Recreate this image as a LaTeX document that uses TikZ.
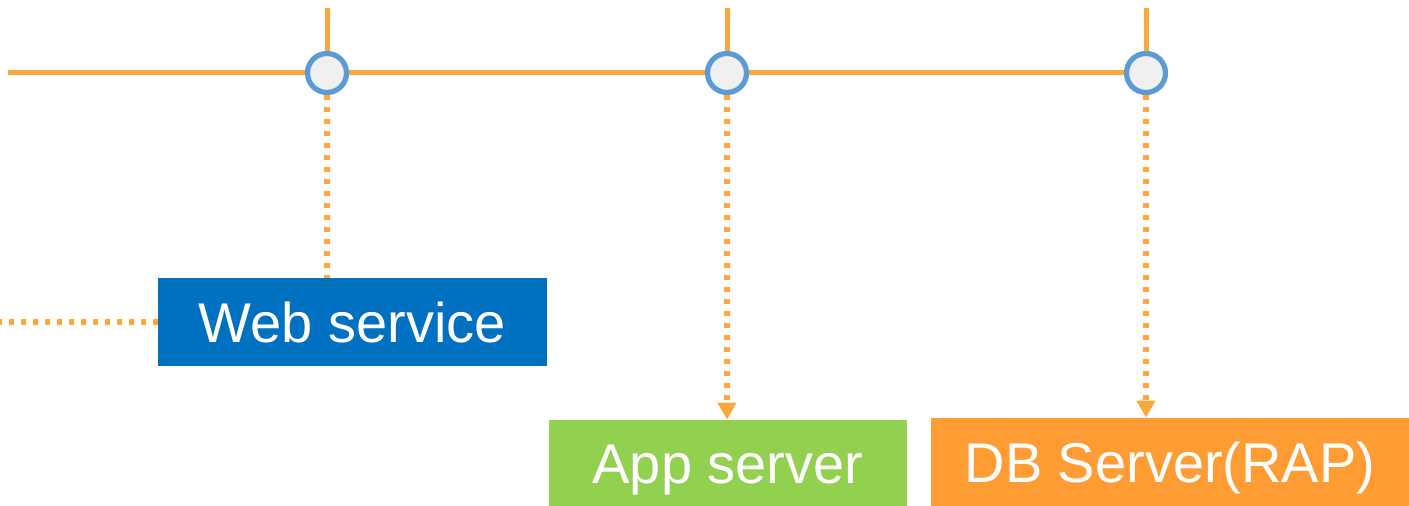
\documentclass[tikz,border=0pt]{standalone}
\usepackage{fontspec}
\setmainfont{Liberation Sans}
\usetikzlibrary{arrows.meta}
\definecolor{wireorange}{HTML}{FBA73C}
\definecolor{hubblue}{HTML}{5B9BD5}
\definecolor{hubfill}{HTML}{F0F0F0}
\definecolor{webblue}{HTML}{0070C0}
\definecolor{appgreen}{HTML}{92D050}
\definecolor{dborange}{HTML}{FF9C34}
\tikzset{
  wire/.style={draw=wireorange, line width=2.5pt},
  dots/.style={draw=wireorange, line width=2.6pt, dash pattern=on 2.5pt off 3.5pt},
  hub/.style={circle, draw=hubblue, fill=hubfill, line width=2.6pt, minimum size=19.5pt, inner sep=0pt},
  box/.style={rectangle, text=white, inner sep=0pt, font=\fontsize{28}{33}\selectfont}
}
\begin{document}
\begin{tikzpicture}[x=0.5pt, y=-0.5pt, >={Triangle[width=9pt,length=8.5pt]}]
\useasboundingbox (0,0) rectangle (1409,506);
% hubs on the bus
\node[hub] (h1) at (327,73) {};
\node[hub] (h2) at (727,73) {};
\node[hub] (h3) at (1146,73) {};
\coordinate (busstart) at (8,73);
\coordinate (t1) at (327,8);
\coordinate (t2) at (727,8);
\coordinate (t3) at (1146,8);
% boxes
\node[box, fill=webblue, minimum width=194.5pt, minimum height=44pt] (web) at (352.5,322) {Web service};
\node[box, fill=appgreen, minimum width=179pt, minimum height=50pt] (app) at (728,470) {App server};
\node[box, fill=dborange, minimum width=239pt, minimum height=50pt] (db) at (1170,468) {DB Server(RAP)};
\coordinate (left) at (0,322);
% bus
\draw[wire] (busstart) -- (h1) -- (h2) -- (h3);
\draw[wire] (t1) -- (h1);
\draw[wire] (t2) -- (h2);
\draw[wire] (t3) -- (h3);
% links
\draw[dots] (h1) -- (h1 |- web.north);
\draw[dots] (web.west) -- (left);
\draw[dots, ->, wireorange] (h2) -- (h2 |- app.north);
\draw[dots, ->, wireorange] (h3) -- (h3 |- db.north);
\end{tikzpicture}
\end{document}
